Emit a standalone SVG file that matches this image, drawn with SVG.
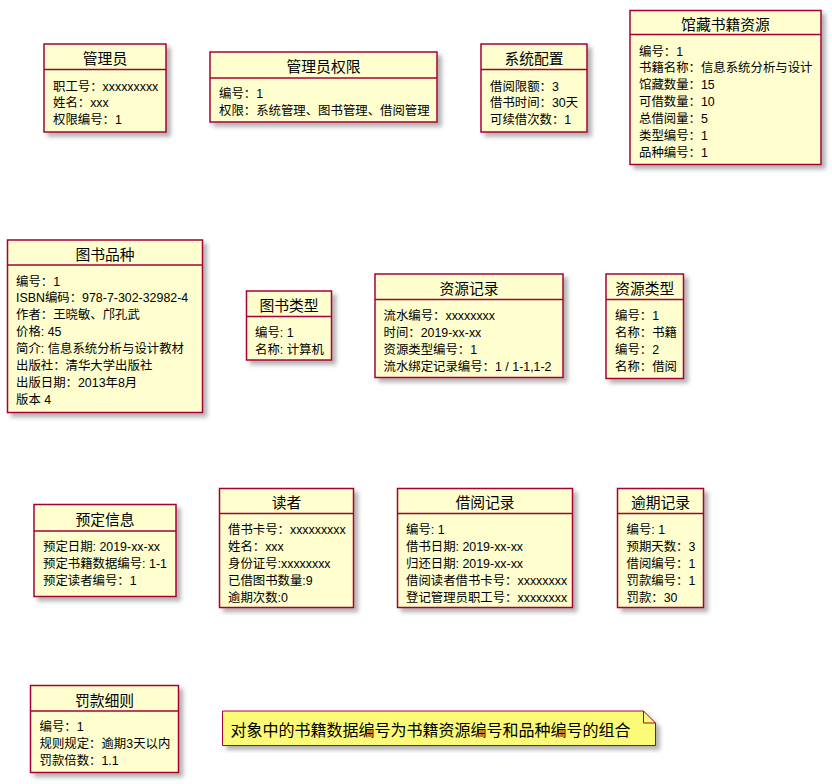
<svg xmlns="http://www.w3.org/2000/svg" width="832" height="784" viewBox="0 0 832 784">
<defs>
<filter id="sh" x="-10%" y="-10%" width="130%" height="130%">
<feGaussianBlur in="SourceAlpha" stdDeviation="2"/>
<feOffset dx="4" dy="4" result="b"/>
<feFlood flood-color="#000" flood-opacity="0.3"/>
<feComposite in2="b" operator="in"/>
<feMerge><feMergeNode/><feMergeNode in="SourceGraphic"/></feMerge>
</filter>
<style>
.box{fill:#FEFECE;stroke:#A80036;stroke-width:1.5;filter:url(#sh)}
.sep{stroke:#A80036;stroke-width:1.5}
.note{fill:#FBFB77;stroke:#A80036;stroke-width:1;filter:url(#sh)}
.fold{fill:none;stroke:#A80036;stroke-width:1}
text{font-family:"Liberation Sans","Noto Sans CJK SC",sans-serif;fill:#000}
.t{font-size:14.8px;text-anchor:middle}
.f{font-size:12.4px}
.n{font-size:16px}
</style>
</defs>
<rect width="832" height="784" fill="#fff"/>

<g id="管理员">
<rect class="box" x="44" y="44" width="122" height="88"/>
<line class="sep" x1="44" y1="69.5" x2="166" y2="69.5"/>
<text class="t" x="105" y="64">管理员</text>
<text class="f" x="53" y="90.5">职工号：xxxxxxxxx</text>
<text class="f" x="53" y="107.4">姓名：xxx</text>
<text class="f" x="53" y="124.3">权限编号：1</text>
</g>

<g id="管理员权限">
<rect class="box" x="210" y="52" width="227" height="70"/>
<line class="sep" x1="210" y1="78" x2="437" y2="78"/>
<text class="t" x="323.5" y="72">管理员权限</text>
<text class="f" x="219" y="98.3">编号：1</text>
<text class="f" x="219" y="115.2">权限：系统管理、图书管理、借阅管理</text>
</g>

<g id="系统配置">
<rect class="box" x="481" y="44" width="106" height="88"/>
<line class="sep" x1="481" y1="69.5" x2="587" y2="69.5"/>
<text class="t" x="534" y="64">系统配置</text>
<text class="f" x="490" y="90.5">借阅限额：3</text>
<text class="f" x="490" y="107.4">借书时间：30天</text>
<text class="f" x="490" y="124.3">可续借次数：1</text>
</g>

<g id="馆藏书籍资源">
<rect class="box" x="630" y="10.5" width="191" height="154"/>
<line class="sep" x1="630" y1="34.5" x2="821" y2="34.5"/>
<text class="t" x="725.5" y="29.5">馆藏书籍资源</text>
<text class="f" x="639" y="55.5">编号：1</text>
<text class="f" x="639" y="72.4">书籍名称：信息系统分析与设计</text>
<text class="f" x="639" y="89.3">馆藏数量：15</text>
<text class="f" x="639" y="106.2">可借数量：10</text>
<text class="f" x="639" y="123.1">总借阅量：5</text>
<text class="f" x="639" y="140">类型编号：1</text>
<text class="f" x="639" y="156.9">品种编号：1</text>
</g>

<g id="图书品种">
<rect class="box" x="7.5" y="240" width="195" height="172.5"/>
<line class="sep" x1="7.5" y1="265" x2="202.5" y2="265"/>
<text class="t" x="105" y="259.5">图书品种</text>
<text class="f" x="16" y="285.5">编号：1</text>
<text class="f" x="16" y="302.4">ISBN编码：978-7-302-32982-4</text>
<text class="f" x="16" y="319.3">作者：王晓敏、邝孔武</text>
<text class="f" x="16" y="336.2">价格: 45</text>
<text class="f" x="16" y="353.1">简介: 信息系统分析与设计教材</text>
<text class="f" x="16" y="370">出版社：清华大学出版社</text>
<text class="f" x="16" y="386.9">出版日期：2013年8月</text>
<text class="f" x="16" y="403.8">版本 4</text>
</g>

<g id="图书类型">
<rect class="box" x="246.5" y="291" width="85" height="69"/>
<line class="sep" x1="246.5" y1="316.5" x2="331.5" y2="316.5"/>
<text class="t" x="289" y="311">图书类型</text>
<text class="f" x="255" y="337.2">编号: 1</text>
<text class="f" x="255" y="354.1">名称: 计算机</text>
</g>

<g id="资源记录">
<rect class="box" x="375" y="274" width="188" height="103.5"/>
<line class="sep" x1="375" y1="299.5" x2="563" y2="299.5"/>
<text class="t" x="469" y="294">资源记录</text>
<text class="f" x="383.5" y="320">流水编号：xxxxxxxx</text>
<text class="f" x="383.5" y="336.9">时间：2019-xx-xx</text>
<text class="f" x="383.5" y="353.8">资源类型编号：1</text>
<text class="f" x="383.5" y="370.7">流水绑定记录编号：1 / 1-1,1-2</text>
</g>

<g id="资源类型">
<rect class="box" x="606" y="274" width="77.5" height="104.5"/>
<line class="sep" x1="606" y1="299.5" x2="683.5" y2="299.5"/>
<text class="t" x="644.75" y="294">资源类型</text>
<text class="f" x="615" y="320">编号：1</text>
<text class="f" x="615" y="336.9">名称：书籍</text>
<text class="f" x="615" y="353.8">编号：2</text>
<text class="f" x="615" y="370.7">名称：借阅</text>
</g>

<g id="预定信息">
<rect class="box" x="34" y="504.5" width="142" height="92"/>
<line class="sep" x1="34" y1="531" x2="176" y2="531"/>
<text class="t" x="105" y="525">预定信息</text>
<text class="f" x="43" y="551.4">预定日期: 2019-xx-xx</text>
<text class="f" x="43" y="568.3">预定书籍数据编号: 1-1</text>
<text class="f" x="43" y="585.2">预定读者编号：1</text>
</g>

<g id="读者">
<rect class="box" x="219.5" y="488.5" width="134" height="119"/>
<line class="sep" x1="219.5" y1="513.5" x2="353.5" y2="513.5"/>
<text class="t" x="286.5" y="508">读者</text>
<text class="f" x="228" y="534.3">借书卡号：xxxxxxxxx</text>
<text class="f" x="228" y="551.2">姓名：xxx</text>
<text class="f" x="228" y="568.1">身份证号:xxxxxxxx</text>
<text class="f" x="228" y="585">已借图书数量:9</text>
<text class="f" x="228" y="601.9">逾期次数:0</text>
</g>

<g id="借阅记录">
<rect class="box" x="397.5" y="488.5" width="175" height="119"/>
<line class="sep" x1="397.5" y1="513.5" x2="572.5" y2="513.5"/>
<text class="t" x="485" y="508">借阅记录</text>
<text class="f" x="406" y="534.3">编号: 1</text>
<text class="f" x="406" y="551.2">借书日期: 2019-xx-xx</text>
<text class="f" x="406" y="568.1">归还日期: 2019-xx-xx</text>
<text class="f" x="406" y="585">借阅读者借书卡号：xxxxxxxx</text>
<text class="f" x="406" y="601.9">登记管理员职工号：xxxxxxxx</text>
</g>

<g id="逾期记录">
<rect class="box" x="617.5" y="488.5" width="86" height="119"/>
<line class="sep" x1="617.5" y1="513.5" x2="703.5" y2="513.5"/>
<text class="t" x="660.5" y="508">逾期记录</text>
<text class="f" x="626.5" y="534.3">编号: 1</text>
<text class="f" x="626.5" y="551.2">预期天数：3</text>
<text class="f" x="626.5" y="568.1">借阅编号：1</text>
<text class="f" x="626.5" y="585">罚款编号：1</text>
<text class="f" x="626.5" y="601.9">罚款：30</text>
</g>

<g id="罚款细则">
<rect class="box" x="30.5" y="685.5" width="148" height="87"/>
<line class="sep" x1="30.5" y1="711" x2="178.5" y2="711"/>
<text class="t" x="104.5" y="705.5">罚款细则</text>
<text class="f" x="39.5" y="731.3">编号：1</text>
<text class="f" x="39.5" y="748.2">规则规定：逾期3天以内</text>
<text class="f" x="39.5" y="765.1">罚款倍数：1.1</text>
</g>

<g id="note">
<path class="note" d="M222.5,711 L643.5,711 L655.5,723 L655.5,745.5 L222.5,745.5 Z"/>
<path class="fold" d="M643.5,711 L643.5,723 L655.5,723"/>
<text class="n" x="230.5" y="736">对象中的书籍数据编号为书籍资源编号和品种编号的组合</text>
</g>
</svg>
